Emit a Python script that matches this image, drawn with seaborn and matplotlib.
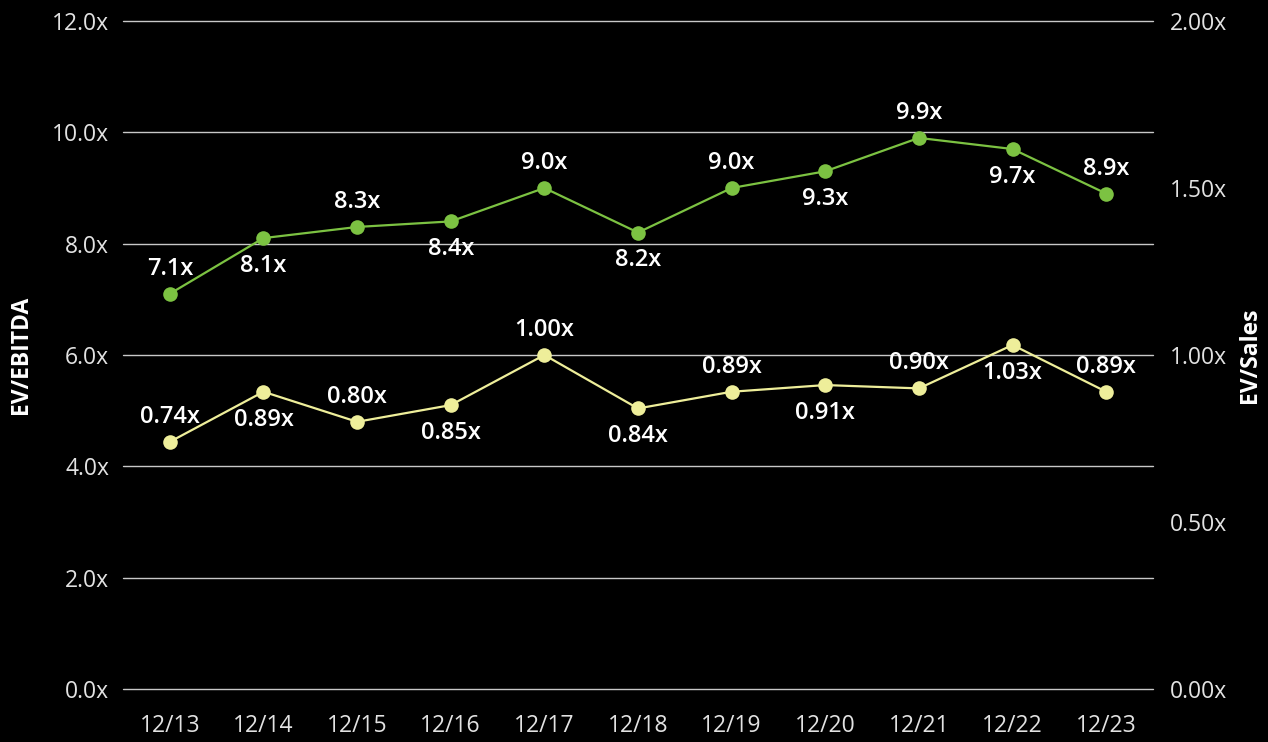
import matplotlib
matplotlib.use("Agg")
import matplotlib.pyplot as plt
import seaborn as sns
import pandas as pd
from matplotlib.ticker import FuncFormatter, MultipleLocator

periods = ["12/13", "12/14", "12/15", "12/16", "12/17", "12/18",
           "12/19", "12/20", "12/21", "12/22", "12/23"]
ev_ebitda = [7.1, 8.1, 8.3, 8.4, 9.0, 8.2, 9.0, 9.3, 9.9, 9.7, 8.9]
ev_sales = [0.74, 0.89, 0.80, 0.85, 1.00, 0.84, 0.89, 0.91, 0.90, 1.03, 0.89]
# label placement: +1 above the point, -1 below it
ebitda_side = [1, -1, 1, -1, 1, -1, 1, -1, 1, -1, 1]
sales_side = [1, -1, 1, -1, 1, -1, 1, -1, 1, -1, 1]

GREEN = "#7cc242"
YELLOW = "#eeee9a"
TEXT = "#ffffff"
TICK = "#e2e2e2"
GRID = "#c8c8c8"

sns.set_theme(style="dark")
plt.rcParams["font.family"] = ["Open Sans", "DejaVu Sans"]

df = pd.DataFrame({"x": range(len(periods)), "ebitda": ev_ebitda, "sales": ev_sales})

fig = plt.figure(figsize=(12.68, 7.42), dpi=100, facecolor="black")
ax = fig.add_axes([123 / 1268, 1 - 689 / 742, (1153 - 123) / 1268, (689 - 21) / 742])
ax.set_facecolor("black")
ax2 = ax.twinx()

sns.lineplot(data=df, x="x", y="ebitda", ax=ax, color=GREEN, linewidth=1.6,
             marker="o", markersize=10.5, markeredgewidth=0, zorder=3)
sns.lineplot(data=df, x="x", y="sales", ax=ax2, color=YELLOW, linewidth=1.6,
             marker="o", markersize=10.5, markeredgewidth=0, zorder=3)

ax.set_ylim(0, 12)
ax2.set_ylim(0, 2)
ax.set_xlim(-0.5, len(periods) - 0.5)
ax.yaxis.set_major_locator(MultipleLocator(2))
ax2.yaxis.set_major_locator(MultipleLocator(0.5))
ax.yaxis.set_major_formatter(FuncFormatter(lambda v, p: f"{v:.1f}x"))
ax2.yaxis.set_major_formatter(FuncFormatter(lambda v, p: f"{v:.2f}x"))
ax.set_xticks(range(len(periods)))
ax.set_xticklabels(periods)

ax.grid(axis="y", color=GRID, linewidth=1.0)
ax.grid(axis="x", visible=False)
ax2.grid(False)
ax.set_axisbelow(True)
for gl in ax.get_ygridlines():
    gl.set_clip_on(False)
for a in (ax, ax2):
    for s in a.spines.values():
        s.set_visible(False)
    a.tick_params(length=0, colors=TICK, labelsize=16.5)
ax.tick_params(axis="y", pad=10)
ax2.tick_params(axis="y", pad=12)
ax.tick_params(axis="x", pad=18)

ax.set_xlabel("")
ax.set_ylabel("EV/EBITDA", color=TEXT, fontsize=16.5, fontweight="bold")
ax2.set_ylabel("EV/Sales", color=TEXT, fontsize=16.5, fontweight="bold")
ax.yaxis.set_label_coords(-90 / 1030, 0.5)
ax2.yaxis.set_label_coords(1 + 85 / 1030, 0.5)


def offset(side):
    return 18 * side if side > 0 else 20 * side


for i, (v, s) in enumerate(zip(ev_ebitda, ebitda_side)):
    ax.annotate(f"{v:.1f}x", (i, v), xytext=(0, offset(s)), textcoords="offset points",
                ha="center", va="center", color=TEXT, fontsize=17, fontweight="semibold")
for i, (v, s) in enumerate(zip(ev_sales, sales_side)):
    ax2.annotate(f"{v:.2f}x", (i, v), xytext=(0, offset(s)), textcoords="offset points",
                 ha="center", va="center", color=TEXT, fontsize=17, fontweight="semibold")

ax2.set_zorder(ax.get_zorder() + 1)
ax2.patch.set_visible(False)

fig.savefig("out.png", dpi=100, facecolor="black")
